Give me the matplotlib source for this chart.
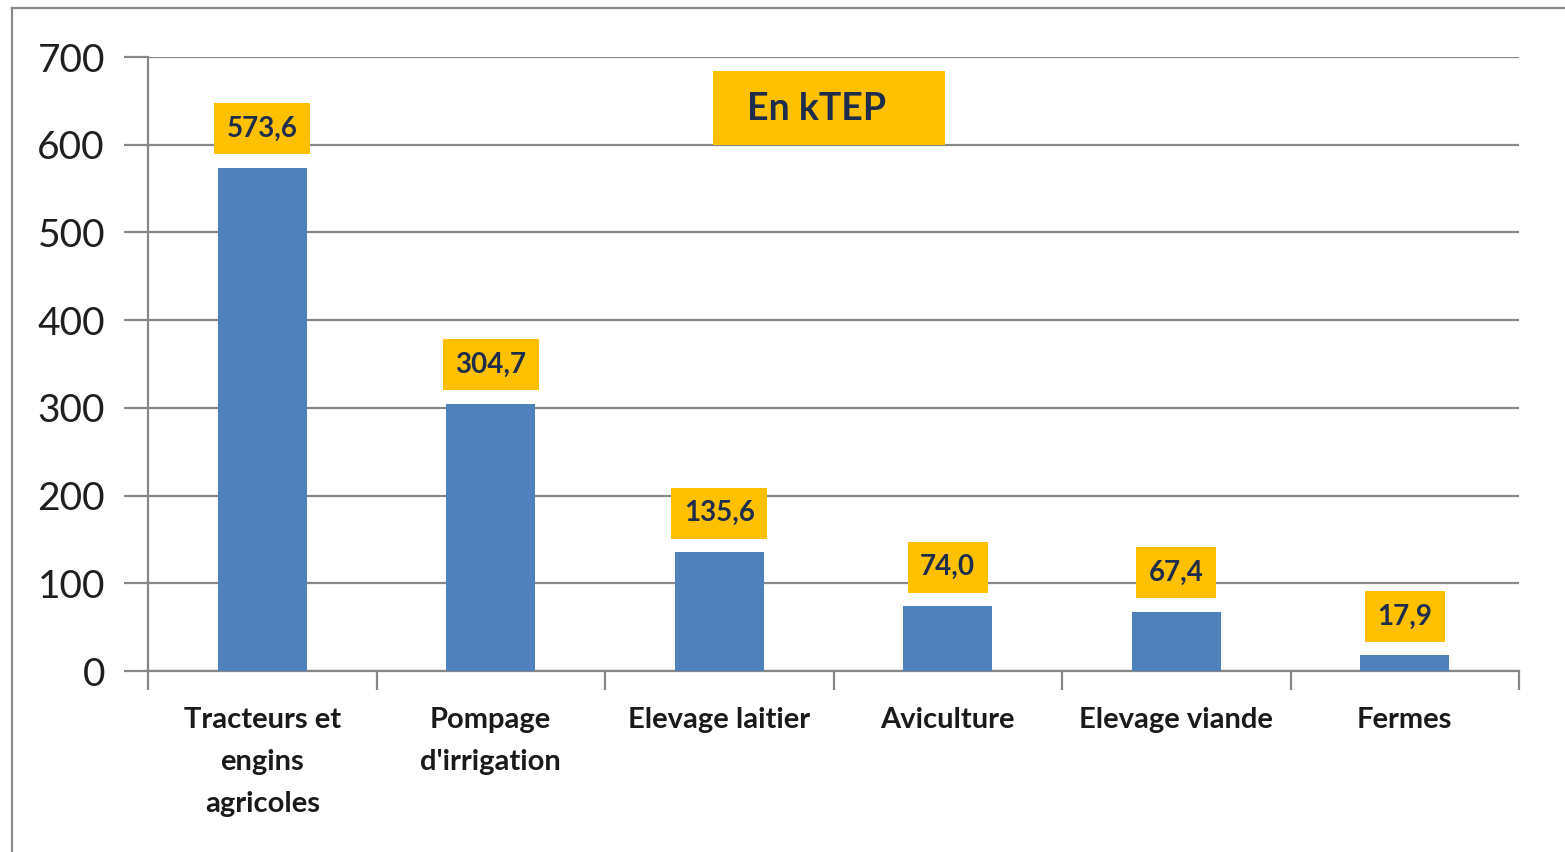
import matplotlib.pyplot as plt
from matplotlib.lines import Line2D
from matplotlib.patches import Rectangle
import numpy as np

# data
categories = ['Tracteurs et\nengins\nagricoles', 'Pompage\nd\'irrigation', 'Elevage laitier',
              'Aviculture', 'Elevage viande', 'Fermes']
values = [573.6, 304.7, 135.6, 74.0, 67.4, 17.9]
value_labels = ['573,6', '304,7', '135,6', '74,0', '67,4', '17,9']
yticks = [0, 100, 200, 300, 400, 500, 600, 700]

plt.rcParams['font.family'] = ['Lato', 'DejaVu Sans']

fig = plt.figure(figsize=(15.65, 8.52), dpi=100)
ax = fig.add_axes([148 / 1565, 1 - 671 / 852, (1519 - 148) / 1565, (671 - 57) / 852])

grid_col = '#878787'
x = np.arange(len(values))
ax.bar(x, values, width=0.39, color='#4F81BD', zorder=3)

ax.set_xlim(-0.5, len(values) - 0.5)
ax.set_ylim(0, 700)
ax.set_yticks(yticks)
ax.set_yticklabels([str(t) for t in yticks], fontsize=28, color='#1F1F1F')
ax.yaxis.grid(True, color=grid_col, linewidth=1.6, zorder=0)
ax.tick_params(axis='y', length=17, width=1.6, color=grid_col, pad=14)

ax.set_xticks(x)
ax.set_xticklabels(categories, fontsize=21, fontweight='bold', color='#1A1A1A', linespacing=1.75)
ax.tick_params(axis='x', which='major', length=0, pad=26)
ax.set_xticks(np.arange(len(values) + 1) - 0.5, minor=True)
ax.tick_params(axis='x', which='minor', length=14, width=1.6, color=grid_col)

for s in ['top', 'right']:
    ax.spines[s].set_visible(False)
for s in ['left', 'bottom']:
    ax.spines[s].set_color(grid_col)
    ax.spines[s].set_linewidth(1.6)

# value labels in gold boxes
for xi, v, lab in zip(x, values, value_labels):
    ax.annotate(lab, xy=(xi, v), xytext=(0, 28), textcoords='offset points',
                ha='center', va='center', fontsize=20, fontweight='bold', color='#1F2D4D',
                bbox=dict(boxstyle='square,pad=0.45', fc='#FFC000', ec='none'), zorder=5)

# unit box
ax.add_patch(Rectangle((1.973, 600), 1.015, 84, fc='#FFC000', ec='none', zorder=4, clip_on=False))
ax.text(2.428, 641, 'En kTEP', ha='center', va='center', fontsize=27, fontweight='bold',
        color='#1F2D4D', zorder=5)

# outer chart frame (left and top edges only visible)
fig.add_artist(Line2D([12 / 1565, 12 / 1565], [0, 1 - 8 / 852], transform=fig.transFigure,
                      color='#8C8C8C', linewidth=1.6))
fig.add_artist(Line2D([12 / 1565, 1], [1 - 8 / 852, 1 - 8 / 852], transform=fig.transFigure,
                      color='#8C8C8C', linewidth=1.6))

fig.savefig('out.png', dpi=100)
